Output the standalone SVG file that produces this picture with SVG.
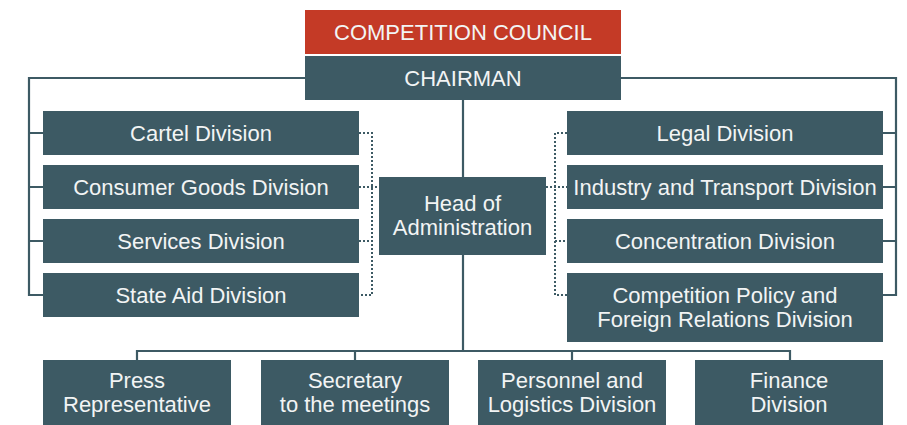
<svg xmlns="http://www.w3.org/2000/svg" width="907" height="425" viewBox="0 0 907 425">
<style>
.box{fill:#3d5a64}
.red{fill:#c43a26}
.t{font-family:"Liberation Sans",Arial,sans-serif;font-size:22px;fill:#f2f4f4;text-anchor:middle}
.ln{fill:none;stroke:#3d5a64;stroke-width:2.2}
.dot{fill:none;stroke:#3d5a64;stroke-width:2;stroke-dasharray:2 2}
</style>
<rect width="907" height="425" fill="#ffffff"/>
<g id="connectors">
<path class="ln" d="M305 78H29V295H43M29 133H43M29 187H43M29 241H43"/>
<path class="ln" d="M621 78H896V295H883M896 133H883M896 187H883M896 241H883"/>
<path class="ln" d="M463 100V177M463 255V351M137 360V351H790V360M355 351V360M572 351V360"/>
<path class="dot" d="M359 133H372V295H359M359 187H379M359 241H372"/>
<path class="dot" d="M567 133H555V295H567M546 187H567M555 241H567"/>
</g>
<g id="council"><rect class="red" x="305" y="10" width="316" height="44"/><text class="t" x="463" y="40">COMPETITION COUNCIL</text></g>
<g id="chairman"><rect class="box" x="305" y="56" width="316" height="44"/><text class="t" x="463" y="86">CHAIRMAN</text></g>
<g id="cartel"><rect class="box" x="43" y="111" width="316" height="44"/><text class="t" x="201" y="141">Cartel Division</text></g>
<g id="consumer"><rect class="box" x="43" y="165" width="316" height="44"/><text class="t" x="201" y="195">Consumer Goods Division</text></g>
<g id="services"><rect class="box" x="43" y="219" width="316" height="44"/><text class="t" x="201" y="249">Services Division</text></g>
<g id="stateaid"><rect class="box" x="43" y="273" width="316" height="44"/><text class="t" x="201" y="303">State Aid Division</text></g>
<g id="head"><rect class="box" x="379" y="177" width="167" height="78"/><text class="t" x="462.5" y="211">Head of</text><text class="t" x="462.5" y="235">Administration</text></g>
<g id="legal"><rect class="box" x="567" y="111" width="316" height="44"/><text class="t" x="725" y="141">Legal Division</text></g>
<g id="industry"><rect class="box" x="567" y="165" width="316" height="44"/><text class="t" x="725" y="195">Industry and Transport Division</text></g>
<g id="concentration"><rect class="box" x="567" y="219" width="316" height="44"/><text class="t" x="725" y="249">Concentration Division</text></g>
<g id="policy"><rect class="box" x="567" y="273" width="316" height="69"/><text class="t" x="725" y="303">Competition Policy and</text><text class="t" x="725" y="327">Foreign Relations Division</text></g>
<g id="press"><rect class="box" x="43" y="360" width="188" height="66"/><text class="t" x="137" y="388">Press</text><text class="t" x="137" y="412">Representative</text></g>
<g id="secretary"><rect class="box" x="261" y="360" width="188" height="66"/><text class="t" x="355" y="388">Secretary</text><text class="t" x="355" y="412">to the meetings</text></g>
<g id="personnel"><rect class="box" x="478" y="360" width="188" height="66"/><text class="t" x="572" y="388">Personnel and</text><text class="t" x="572" y="412">Logistics Division</text></g>
<g id="finance"><rect class="box" x="695" y="360" width="188" height="66"/><text class="t" x="789" y="388">Finance</text><text class="t" x="789" y="412">Division</text></g>
</svg>
